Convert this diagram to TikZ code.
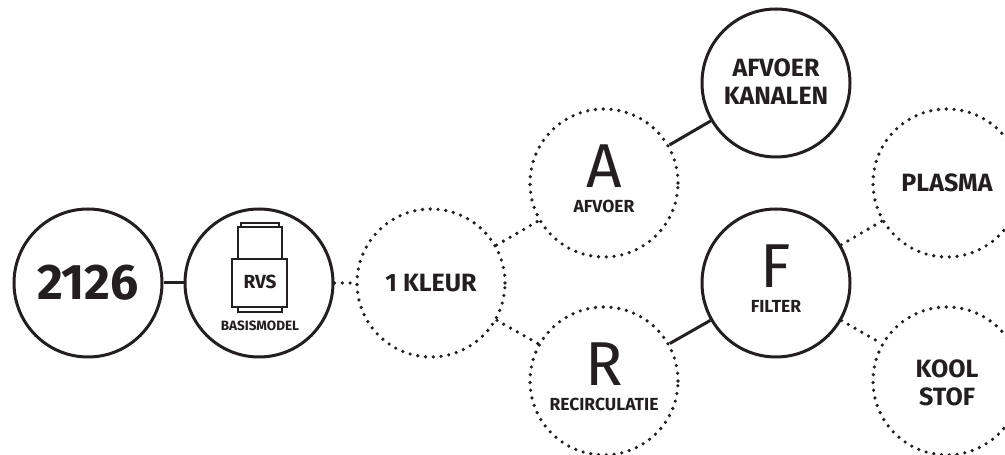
\documentclass[tikz,border=0pt]{standalone}
\usepackage{fontspec}
\setmainfont{Fira Sans}
\usetikzlibrary{positioning}
\definecolor{ink}{RGB}{35,31,32}

\begin{document}
\begin{tikzpicture}[x=1pt,y=1pt,
    ring/.style={circle,draw=ink,line width=3pt,minimum size=148pt,inner sep=0pt},
    dotring/.style={ring,line width=3.6pt,dash pattern=on 0pt off 7.8pt,line cap=round},
    solidlink/.style={draw=ink,line width=3pt},
    dotlink/.style={solidlink,line width=3.6pt,dash pattern=on 0pt off 7.8pt,line cap=round},
    bigtxt/.style={font=\bfseries\fontsize{25}{28}\selectfont,text=ink,align=center},
    letter/.style={font=\fontsize{62}{62}\selectfont,text=ink,anchor=base,inner sep=0pt,text depth=0pt},
    subtxt/.style={font=\bfseries\fontsize{17.5}{17.5}\selectfont,text=ink,anchor=base,inner sep=0pt,text height=12pt}]
  \useasboundingbox (0,0) rectangle (1005,455);

  % circles
  \node[ring] (n2126) at (88,172) {};
  \node[ring] (rvs) at (259,172) {};
  \node[dotring] (kleur) at (431,172) {};
  \node[dotring] (afvoer) at (604,272) {};
  \node[dotring] (recirc) at (604,74) {};
  \node[ring] (filter) at (776,172) {};
  \node[ring] (kanalen) at (776,372) {};
  \node[dotring] (plasma) at (947,272) {};
  \node[dotring] (kool) at (947,74) {};

  % links
  \draw[solidlink] (n2126) -- (rvs);
  \draw[dotlink] (rvs) -- (kleur);
  \draw[dotlink] (kleur) -- (afvoer);
  \draw[dotlink] (kleur) -- (recirc);
  \draw[solidlink] (afvoer) -- (kanalen);
  \draw[solidlink] (recirc) -- (filter);
  \draw[dotlink] (filter) -- (plasma);
  \draw[dotlink] (filter) -- (kool);

  % texts
  \node[font=\bfseries\fontsize{50}{50}\selectfont,text=ink] (t2126) at (n2126) {2126};
  \node[bigtxt] (tkleur) at (kleur) {1 KLEUR};
  \node[bigtxt] (tkanalen) at ([yshift=1.5]kanalen.center) {AFVOER\\KANALEN};
  \node[bigtxt] (tplasma) at (plasma) {PLASMA};
  \node[bigtxt] (tkool) at ([yshift=-2]kool.center) {KOOL\\STOF};
  \node[letter] (la) at ([yshift=-5]afvoer.center) {A};
  \node[subtxt] (sa) at ([yshift=-30]afvoer.center) {AFVOER};
  \node[letter] (lr) at ([yshift=-5]recirc.center) {R};
  \node[subtxt] (sr) at ([yshift=-30]recirc.center) {RECIRCULATIE};
  \node[letter] (lf) at ([yshift=-5]filter.center) {F};
  \node[subtxt] (sf) at ([yshift=-30]filter.center) {FILTER};

  % rvs icon
  \draw[ink,line width=1.5pt] (241,228) rectangle (279,232);
  \draw[ink,line width=1.5pt] (238,196) rectangle (282,228);
  \draw[ink,line width=1.5pt] (232,148) rectangle (287,196);
  \draw[ink,line width=1.5pt] (238,143) rectangle (282,148);
  \node[font=\bfseries\fontsize{19}{19}\selectfont,text=ink] (trvs) at (260,173) {RVS};
  \node[font=\bfseries\fontsize{13.5}{13.5}\selectfont,text=ink,anchor=base,inner sep=0pt] (tbasis) at (260,124) {BASISMODEL};
\end{tikzpicture}
\end{document}
